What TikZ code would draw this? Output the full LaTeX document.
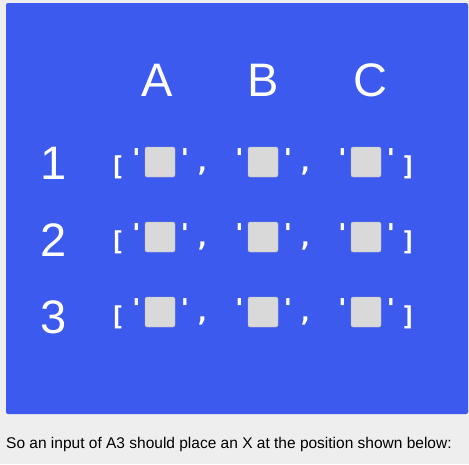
\documentclass[tikz,border=0pt]{standalone}
\usepackage{fontspec}
\setmainfont{Liberation Sans}
\setmonofont{DejaVu Sans Mono}
\definecolor{panelblue}{HTML}{3D5AEE}
\definecolor{pagegray}{HTML}{EEEEEE}
\definecolor{cellgray}{HTML}{D9D9D9}
\begin{document}
\begin{tikzpicture}[x=1pt, y=-1pt,
  head/.style={text=white, font=\fontsize{47}{47}\selectfont, inner sep=0pt},
  cell/.style={draw=cellgray!85!black, fill=cellgray, rounded corners=2pt, minimum size=30pt, inner sep=0pt, line width=0.4pt},
  punct/.style={text=white, font=\ttfamily\bfseries\fontsize{26}{26}\selectfont, inner sep=0pt}
]
\useasboundingbox (0,0) rectangle (469,464);
\fill[pagegray] (0,0) rectangle (469,464);
\fill[panelblue, rounded corners=2pt] (6,3) rectangle (468,414);

\node[head] (colA) at (157,80.5) {A};
\node[head] (colB) at (263,80.5) {B};
\node[head] (colC) at (370,80.5) {C};

\node[head] (row1) at (54,163.5) {1};
\node[head] (row2) at (54,240) {2};
\node[head] (row3) at (54,317) {3};

\foreach \r/\y in {1/162,2/237,3/312}{
  \node[punct] (open\r) at (117.5,\y+5) {[};
  \foreach \c/\x in {1/160,2/263,3/366}{
    \node[cell] (cell\r\c) at (\x,\y) {};
    \node[punct] (ql\r\c) at (\x-23.5,\y-4) {\textquotesingle};
    \node[punct] (qr\r\c) at (\x+25,\y-4) {\textquotesingle};
  }
  \node[punct] (comma\r a) at (202.5,\y+8.5) {,};
  \node[punct] (comma\r b) at (305.5,\y+8.5) {,};
  \node[punct] (close\r) at (408.5,\y+5) {]};
}

\node[anchor=base west, inner sep=0pt, font=\fontsize{15.5}{15.5}\selectfont] (caption) at (6,448)
  {So an input of A3 should place an X at the position shown below:};
\end{tikzpicture}
\end{document}
